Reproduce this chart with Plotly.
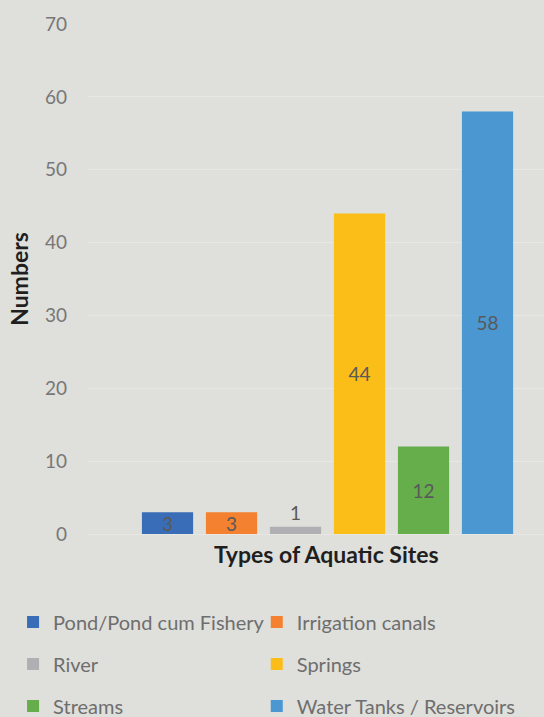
import plotly.graph_objects as go

# Site categories and counts
site_types = [
    "Pond/Pond cum Fishery",
    "Irrigation canals",
    "River",
    "Springs",
    "Streams",
    "Water Tanks / Reservoirs",
]
counts = [3, 3, 1, 44, 12, 58]
colors = ["#3a6db8", "#f3812f", "#b0b0b4", "#fbbd18", "#66ad4c", "#4b97d1"]

x_title = "Types of Aquatic Sites"
y_title = "Numbers"
group_label = [x_title]
y_ticks = [0, 10, 20, 30, 40, 50, 60, 70]

BG = "#dfdfdb"
GRID = "#e7e7e3"
FONT = "Lato, 'Open Sans', sans-serif"

# Legend entries laid out as a 2-column, 3-row grid (container fractions)
legend_cols = [0.024, 0.472]
legend_rows_y = [0.1325, 0.0739, 0.0153]
legend_ids = ["legend", "legend2", "legend3", "legend4", "legend5", "legend6"]

fig = go.Figure()
for name, val, col, leg in zip(site_types, counts, colors, legend_ids):
    fig.add_trace(go.Bar(
        name=name,
        x=group_label,
        y=[val],
        marker=dict(color=col, line=dict(width=0)),
        text=[str(val)],
        textposition="auto",
        insidetextanchor="middle",
        textangle=0,
        constraintext="none",
        textfont=dict(family=FONT, size=19, color="#595959"),
        cliponaxis=False,
        legend=leg,
        hoverinfo="skip",
    ))

legend_layout = {}
for i, leg in enumerate(legend_ids):
    legend_layout[leg] = dict(
        orientation="h",
        xref="container",
        yref="container",
        x=legend_cols[i % 2],
        y=legend_rows_y[i // 2],
        xanchor="left",
        yanchor="middle",
        font=dict(family=FONT, size=20, color="#6e6e6e"),
        bgcolor="rgba(0,0,0,0)",
    )

fig.update_layout(
    width=544,
    height=717,
    margin=dict(l=88, r=0, t=24, b=183),
    paper_bgcolor=BG,
    plot_bgcolor=BG,
    barmode="group",
    bargap=0.2,
    bargroupgap=0.2,
    showlegend=True,
    font=dict(family=FONT, color="#6e6e6e"),
    xaxis=dict(
        range=[-0.499, 0.451],
        showticklabels=False,
        showgrid=False,
        zeroline=False,
        showline=False,
        ticks="",
        automargin=False,
    ),
    yaxis=dict(
        range=[0, 70],
        tickvals=y_ticks,
        ticks="",
        showgrid=True,
        gridcolor=GRID,
        gridwidth=1,
        zeroline=True,
        zerolinecolor=GRID,
        zerolinewidth=1,
        ticklabelstandoff=20,
        tickfont=dict(family=FONT, size=19, color="#777777"),
        title=dict(
            text=f"<b>{y_title}</b>",
            font=dict(family=FONT, size=23, color="#1f1f1f"),
            standoff=9,
        ),
        automargin=False,
    ),
    annotations=[dict(
        text=f"<b>{x_title}</b>",
        xref="paper", yref="paper",
        x=0.522, y=-0.039,
        xanchor="center", yanchor="middle",
        showarrow=False,
        font=dict(family=FONT, size=23, color="#1f1f1f"),
    )],
    **legend_layout,
)

fig.write_html("out.html")
